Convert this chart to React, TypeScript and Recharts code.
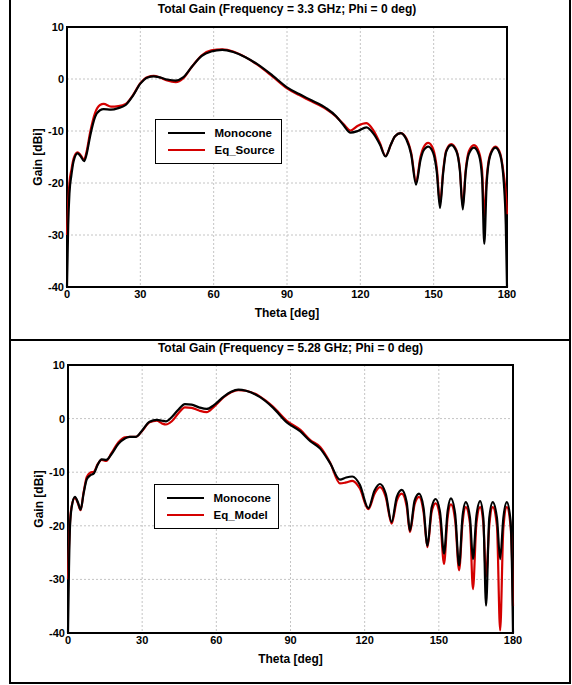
import {
  LineChart, Line,
  XAxis, YAxis, CartesianGrid,
  ReferenceArea, Legend,
} from 'recharts';

// Total Gain, f = 3.3 GHz
const topTheta = [
  0, 0.5, 1, 1.8, 2.7, 4.3, 5.5, 7, 8, 9.5, 11.5, 13.5, 15, 18, 21, 24, 27, 30, 33, 35.5,
  38, 41, 44.5, 47.5, 51, 55, 59, 63.5, 68, 73, 78, 84, 90, 95, 100, 106, 110, 113, 116, 119,
  122.5, 125.5, 128, 130.3, 132.5, 134.2, 136.5, 138.8, 140.8, 142.8, 144.6, 145.8, 147.8, 149.8, 151.3, 152.6, 153.9, 155.1, 157.2, 159.3,
  160.7, 161.9, 163.1, 164.4, 166.5, 168.5, 169.8, 170.7, 171.7, 173.1, 175.3, 177.2, 178.7, 179.5, 180,
];
const topMonocone = [
  -40, -28, -22, -18.5, -15.8, -14.3, -14.8, -15.8, -14.5, -10.9, -7.3, -6.0, -5.8, -5.9, -5.6, -5.0, -3.2, -0.9, 0.3, 0.5,
  0.3, -0.1, -0.3, 0.3, 2.3, 4.4, 5.3, 5.6, 5.2, 4.2, 2.8, 0.7, -1.6, -2.9, -4.1, -5.6, -7.1, -8.8, -10.3, -10.0,
  -9.3, -10.6, -12.6, -14.9, -12.6, -11.0, -10.4, -11.6, -14.5, -20.3, -15.6, -13.8, -13.0, -14.2, -18, -24.8, -18, -14, -12.7, -13.9,
  -17.5, -25.1, -18, -14.4, -13.2, -14.6, -19, -31.7, -20, -14.8, -13.2, -14.6, -20, -28, -40,
];
const topEqSource = [
  -30, -24, -20, -17.5, -15.3, -14.1, -14.6, -15.5, -14, -10.2, -6.5, -5.0, -4.8, -5.3, -5.2, -4.8, -3.1, -0.8, 0.4, 0.6,
  0.3, -0.3, -0.6, 0.1, 2.3, 4.5, 5.5, 5.7, 5.3, 4.2, 2.7, 0.5, -1.8, -3.1, -4.3, -5.8, -7.2, -8.6, -9.9, -9.0,
  -8.5, -10.0, -12.3, -14.8, -12.6, -11.0, -10.4, -11.4, -14.2, -19.8, -15.0, -13.2, -12.3, -13.5, -17.2, -24.0, -17.6, -13.8, -12.5, -13.7,
  -17.2, -24.5, -17.5, -13.9, -12.7, -14.0, -17.5, -26.5, -19, -14.5, -13.0, -14.3, -18.5, -22, -26,
];

// Total Gain, f = 5.28 GHz
const botTheta = [
  0, 0.4, 0.8, 1.5, 2.8, 4, 5.1, 6.3, 7.6, 9, 10.5, 12, 13.6, 15.5, 17.5, 20.4, 23, 25, 27.5, 30,
  33, 35.9, 38, 39.6, 42, 44.5, 47.3, 50, 53, 56.1, 59, 63, 66, 68.9, 72, 77.7, 83, 88.5, 94, 98,
  102, 106, 110, 112.5, 115, 118, 121.5, 124, 126.2, 128.5, 130.9, 133, 135, 137, 138.3, 140.2, 142, 143.8, 145.4, 147.1,
  148.7, 150.5, 152.1, 153.5, 154.9, 156.6, 158.2, 159.6, 160.9, 162.6, 163.8, 165.2, 166.7, 168, 169.1, 170.4, 171.8, 173.5, 174.8, 176.1,
  177.5, 179, 179.6, 180,
];
const botMonocone = [
  -40, -28, -20.3, -16.5, -14.6, -15.6, -17.0, -14, -11.3, -10.6, -10.2, -8.6, -7.6, -7.7, -6.7, -4.7, -3.7, -3.4, -3.4, -2.2,
  -0.6, -0.25, -0.4, -0.5, 0.3, 1.6, 2.7, 2.6, 2.1, 1.8, 2.5, 4.1, 5.0, 5.4, 5.2, 4.0, 2.0, -0.7, -2.4, -4.2,
  -5.6, -8.3, -11.4, -11.0, -10.8, -12.3, -16.7, -13.4, -12.2, -14, -19.3, -14.6, -13.3, -15.6, -20.9, -15.3, -14.0, -16.6, -23.7, -16.6,
  -15.0, -17.5, -25.2, -17.5, -14.9, -17.8, -27.4, -18.2, -15.6, -18.5, -26.2, -18.2, -15.4, -18.5, -34.9, -18.5, -15.6, -18.5, -26.2, -18.5,
  -15.6, -19, -28, -40,
];
const botEqModel = [
  -30, -24, -19.5, -16.3, -14.8, -15.8, -17.1, -13.8, -10.9, -10.1, -9.9, -8.5, -7.7, -7.9, -6.5, -4.4, -3.5, -3.4, -3.4, -2.3,
  -0.7, -0.4, -0.9, -1.1, -0.5, 0.9, 2.1, 2.0, 1.5, 1.2, 2.2, 4.0, 4.9, 5.3, 5.2, 4.1, 2.2, -0.4, -2.1, -4.0,
  -5.3, -8.2, -12.1, -11.9, -11.6, -13.0, -16.9, -14.0, -12.8, -14.6, -19.6, -15.3, -14.0, -16.4, -21.2, -16.0, -14.6, -17.4, -24.0, -17.4,
  -15.8, -18.6, -27.1, -18.7, -16.0, -19.0, -28.3, -19.4, -16.5, -19.6, -31.8, -19.6, -16.5, -19.5, -29.5, -20, -16.5, -20, -39.5, -20.5,
  -16.5, -20, -26, -35,
];

const xTicks = [0, 30, 60, 90, 120, 150, 180];
const yTicks = [-40, -30, -20, -10, 0, 10];

const FONT = '"Liberation Sans", Arial, sans-serif';
const RED = '#d40000';

interface PanelProps {
  title: string;
  theta: number[];
  mono: number[];
  eq: number[];
  eqName: string;
  top: number;
  titleTop: number;
  margin: { top: number; right: number; bottom: number; left: number };
  legend: { left: number; top: number; width: number };
}

function GainPanel({ title, theta, mono, eq, eqName, top, titleTop, margin, legend }: PanelProps) {
  const data = theta.map((t, i) => ({ theta: t, mono: mono[i], eq: eq[i] }));
  const tick = { fill: '#000', fontSize: 11, fontWeight: 700, fontFamily: FONT };
  const labelStyle = { fill: '#000', fontSize: 12, fontWeight: 700, fontFamily: FONT, textAnchor: 'middle' as const };

  return (
    <div style={{ position: 'absolute', left: 0, top, width: 572, height: 340 }}>
      <div
        style={{
          position: 'absolute', left: margin.left + 40, top: titleTop,
          width: 572 - margin.left - 40 - margin.right, textAlign: 'center',
          font: `700 12px ${FONT}`, lineHeight: '14px',
        }}
      >
        {title}
      </div>
      <LineChart width={572} height={340} data={data} margin={margin}>
        <CartesianGrid stroke="#c4c4c4" strokeDasharray="2 2" />
        <XAxis
          dataKey="theta"
          type="number"
          domain={[0, 180]}
          ticks={xTicks}
          tick={tick}
          tickLine={false}
          axisLine={false}
          tickSize={3}
          tickMargin={0}
          height={30}
          label={{ value: 'Theta [deg]', position: 'insideBottom', offset: 0, style: labelStyle }}
        />
        <YAxis
          type="number"
          domain={[-40, 10]}
          ticks={yTicks}
          tick={tick}
          tickLine={false}
          axisLine={false}
          tickSize={3}
          tickMargin={0}
          width={40}
          allowDataOverflow
          label={{ value: 'Gain [dBi]', angle: -90, position: 'insideLeft', offset: 11, style: labelStyle }}
        />
        <Legend
          layout="vertical"
          align="center"
          verticalAlign="middle"
          wrapperStyle={{ left: legend.left, top: legend.top, width: legend.width, height: 45 }}
          content={() => (
            <div
              style={{
                boxSizing: 'border-box', width: legend.width, height: 45,
                border: '1.5px solid #000', background: '#fff', paddingTop: 4,
              }}
            >
              {[{ name: 'Monocone', color: '#000' }, { name: eqName, color: RED }].map((it) => (
                <div key={it.name} style={{ display: 'flex', alignItems: 'center', height: 17.5 }}>
                  <span style={{ marginLeft: 11.5, width: 37, height: 2, background: it.color }} />
                  <span style={{ marginLeft: 10, font: `700 11.5px ${FONT}`, color: '#000' }}>{it.name}</span>
                </div>
              ))}
            </div>
          )}
        />
        <Line
          type="monotone"
          dataKey="eq"
          name={eqName}
          stroke={RED}
          strokeWidth={2.2}
          dot={false}
          isAnimationActive={false}
        />
        <Line
          type="monotone"
          dataKey="mono"
          name="Monocone"
          stroke="#000"
          strokeWidth={2.2}
          dot={false}
          isAnimationActive={false}
        />
        <ReferenceArea x1={0} x2={180} y1={-40} y2={10} fill="none" stroke="#000" strokeWidth={2} ifOverflow="visible" />
      </LineChart>
    </div>
  );
}

export default function App() {
  return (
    <div style={{ position: 'absolute', left: 0, top: 0, width: 572, height: 685, background: '#fff' }}>
      <div style={{ position: 'absolute', left: 9, top: -10, width: 562, height: 351, border: '2px solid #000', boxSizing: 'border-box' }} />
      <div style={{ position: 'absolute', left: 9, top: 339, width: 562, height: 345, border: '2px solid #000', boxSizing: 'border-box' }} />
      <GainPanel
        title="Total Gain (Frequency = 3.3 GHz; Phi = 0 deg)"
        theta={topTheta}
        mono={topMonocone}
        eq={topEqSource}
        eqName="Eq_Source"
        top={0}
        titleTop={2}
        margin={{ top: 27, right: 65, bottom: 23, left: 27 }}
        legend={{ left: 155, top: 119, width: 127 }}
      />
      <GainPanel
        title="Total Gain (Frequency = 5.28 GHz; Phi = 0 deg)"
        theta={botTheta}
        mono={botMonocone}
        eq={botEqModel}
        eqName="Eq_Model"
        top={340}
        titleTop={1}
        margin={{ top: 25, right: 59, bottom: 17, left: 28 }}
        legend={{ left: 154, top: 144, width: 125 }}
      />
    </div>
  );
}
